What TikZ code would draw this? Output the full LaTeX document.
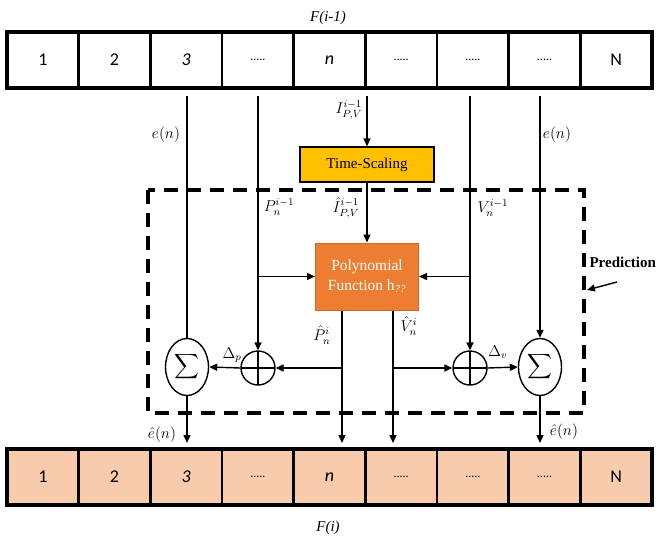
\documentclass[tikz,border=0pt]{standalone}
\usepackage{amssymb,amsmath}
\usepackage{fontspec}
\setmainfont{Liberation Serif}
\newfontfamily\cellfont{Carlito}
\usepackage{tikz}
\usetikzlibrary{arrows.meta,shapes.geometric}

\definecolor{tsyellow}{HTML}{FFC000}
\definecolor{polyorange}{HTML}{ED7D31}
\definecolor{polyedge}{HTML}{D0691F}
\definecolor{peach}{HTML}{F8CBAD}
\newcommand{\celldots}{\fontsize{12}{14}\selectfont.....}

\tikzset{
	cell/.style={draw, line width=2.4pt, outer sep=0pt, inner sep=0pt, minimum width=71.67pt, minimum height=56pt, font=\cellfont\fontsize{18}{20}\selectfont},
	wire/.style={line width=1.4pt},
	sumnode/.style={ellipse, draw, line width=1.4pt, fill=white, inner sep=0pt, minimum width=43pt, minimum height=57pt},
	plusnode/.style={circle, draw, line width=1.4pt, fill=white, inner sep=0pt, minimum size=34pt,
		path picture={\draw[line width=1.1pt] (path picture bounding box.north) -- (path picture bounding box.south)
			(path picture bounding box.west) -- (path picture bounding box.east);}},
	tsbox/.style={draw, fill=tsyellow, line width=1.2pt, minimum width=134pt, minimum height=35pt, font=\fontsize{15}{17}\selectfont},
	polybox/.style={draw=polyedge, fill=polyorange, text=white, line width=1pt, minimum width=103pt, minimum height=67pt, align=center, font=\fontsize{15.5}{20}\selectfont},
	predbox/.style={line width=4pt, dash pattern=on 14pt off 9pt},
	mathlab/.style={font=\fontsize{12}{14}\selectfont, scale=1.3, inner sep=1pt},
}

\begin{document}
\begin{tikzpicture}[x=1pt, y=-1pt, >={Triangle[length=8pt,width=7pt]}, font=\fontsize{15}{17}\selectfont]
		\useasboundingbox (0,0) rectangle (656,541);
		% frame F(i-1) on top, frame F(i) below
		\foreach \lab [count=\k] in {1,2,\textit{3},\celldots,\textit{n},\celldots,\celldots,\celldots,N} {
			\node[cell] (t\k) at ({7+71.67*(\k-0.5)},60) {\lab};
			\node[cell, fill=peach] (b\k) at ({7+71.67*(\k-0.5)},477) {\lab};
		}
		\draw[line width=3.2pt] (t1.north west) rectangle (t9.south east);
		\draw[line width=3.2pt] (b1.north west) rectangle (b9.south east);
		\node (ftop) at (328,18) {\textit{F(i-1)}};
		\node (fbot) at (328,528) {\textit{F(i)}};
		% prediction block
		\draw[predbox] (148,190) rectangle (584,413);
		\node[tsbox] (ts) at (367,164.5) {Time-Scaling};
		\node[polybox] (poly) at (367,276.5) {Polynomial\\Function h\textsubscript{\textit{??}}};
		\node[sumnode] (s1) at (187,367) {\LARGE$\displaystyle\sum$};
		\node[plusnode] (p1) at (258,368) {};
		\node[plusnode] (p2) at (470,368) {};
		\node[sumnode] (s2) at (540,367) {\LARGE$\displaystyle\sum$};
		\coordinate (pout) at (342,0);
		\coordinate (vout) at (393,0);
		% inputs from F(i-1)
		\draw[wire, shorten <=8pt] (t3.south -| s1.north) -- (s1.north);
		\draw[wire, ->, shorten <=8pt] (t4.south -| p1.north) -- (p1.north);
		\draw[wire, ->] (p1.north |- poly.west) -- (poly.west);
		\draw[wire, ->, shorten <=8pt] (t5.south -| ts.north) -- (ts.north);
		\draw[wire, ->] (ts.south) -- (poly.north);
		\draw[wire, ->, shorten <=8pt] (t7.south -| p2.north) -- (p2.north);
		\draw[wire, ->] (p2.north |- poly.east) -- (poly.east);
		\draw[wire, ->, shorten <=8pt] (t8.south -| s2.north) -- (s2.north);
		% outputs to F(i)
		\draw[wire, ->, shorten >=6pt] (poly.south -| pout) -- (b5.north -| pout);
		\draw[wire, ->] (pout |- p1) -- (p1.east);
		\draw[wire, ->] (p1.west) -- (s1.east);
		\draw[wire, ->, shorten >=6pt] (s1.south) -- (b3.north -| s1.south);
		\draw[wire, ->, shorten >=6pt] (poly.south -| vout) -- (b6.north -| vout);
		\draw[wire, ->] (vout |- p2) -- (p2.west);
		\draw[wire, ->] (p2.east) -- (s2.west);
		\draw[wire, ->, shorten >=6pt] (s2.south) -- (b8.north -| s2.south);
		% labels
		\node[mathlab] (enl) at (166,135) {$e(n)$};
		\node[mathlab] (enr) at (557,135) {$e(n)$};
		\node[mathlab] (ilab) at (349,110) {$I_{P,V}^{i-1}$};
		\node[mathlab] (plab) at (279,207) {$P_n^{i-1}$};
		\node[mathlab] (ihat) at (346,208) {$\hat{I}_{P,V}^{i-1}$};
		\node[mathlab] (vlab) at (493,208) {$V_n^{i-1}$};
		\node[mathlab] (phat) at (322,335) {$\hat{P}_n^{i}$};
		\node[mathlab] (vhat) at (409,326) {$\hat{V}_n^{i}$};
		\node[mathlab] (dp) at (232,355) {$\Delta_p$};
		\node[mathlab] (dv) at (498,352) {$\Delta_v$};
		\node[mathlab] (ehl) at (162,435) {$\hat{e}(n)$};
		\node[mathlab] (ehr) at (564,432) {$\hat{e}(n)$};
		\node[anchor=west, font=\fontsize{15}{17}\selectfont\bfseries] (predlab) at (586,262) {Prediction};
		\coordinate (predtail) at (617,282);
		\coordinate (predtip) at (587,290);
		\draw[wire, ->] (predtail) -- (predtip);
	\end{tikzpicture}
\end{document}
